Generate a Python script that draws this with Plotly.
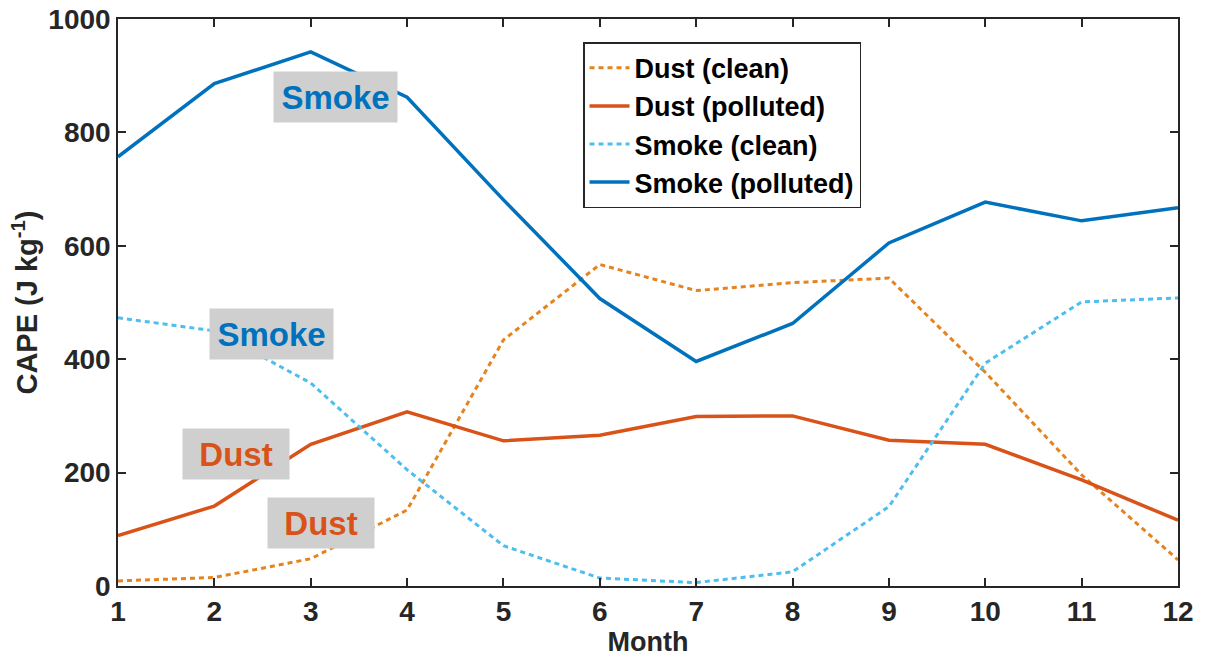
import plotly.graph_objects as go

months = list(range(1, 13))
dust_clean = [9, 15, 48, 134, 434, 567, 521, 535, 543, 377, 196, 46]
dust_polluted = [89, 141, 250, 307, 256, 266, 299, 300, 257, 250, 187, 116]
smoke_clean = [473, 450, 358, 205, 71, 14, 6, 25, 140, 393, 501, 508]
smoke_polluted = [757, 886, 942, 862, 681, 507, 396, 463, 605, 677, 644, 667]

x_ticks = months
y_ticks = [0, 200, 400, 600, 800, 1000]

C_DUST_CLEAN = "#E5841F"
C_DUST_POLL = "#D95319"
C_SMOKE_CLEAN = "#4DBEEE"
C_SMOKE_POLL = "#0072BD"

FONT = "Liberation Sans"

fig = go.Figure()
fig.add_trace(go.Scatter(x=months, y=dust_clean, mode="lines", name="<b>Dust (clean)</b>",
                         line=dict(color=C_DUST_CLEAN, width=3, dash="5px,4px")))
fig.add_trace(go.Scatter(x=months, y=dust_polluted, mode="lines", name="<b>Dust (polluted)</b>",
                         line=dict(color=C_DUST_POLL, width=3.5)))
fig.add_trace(go.Scatter(x=months, y=smoke_clean, mode="lines", name="<b>Smoke (clean)</b>",
                         line=dict(color=C_SMOKE_CLEAN, width=3, dash="5px,4px")))
fig.add_trace(go.Scatter(x=months, y=smoke_polluted, mode="lines", name="<b>Smoke (polluted)</b>",
                         line=dict(color=C_SMOKE_POLL, width=3.5)))

labels = [
    ("Smoke", 3.262, 862, C_SMOKE_POLL, 115),
    ("Smoke", 2.588, 444, C_SMOKE_POLL, 115),
    ("Dust", 2.225, 233, C_DUST_POLL, 98),
    ("Dust", 3.107, 111, C_DUST_POLL, 98),
]
for txt, xx, yy, col, w in labels:
    fig.add_annotation(x=xx, y=yy, xref="x", yref="y", text=f"<b>{txt}</b>", showarrow=False,
                       font=dict(family=FONT, size=33, color=col), bgcolor="#CFCFCF",
                       width=w, height=42, borderpad=4, xanchor="center", yanchor="middle")

axis_common = dict(showline=True, linecolor="#262626", linewidth=1.5, mirror="ticks",
                   ticks="inside", ticklen=8, tickwidth=1.5, tickcolor="#262626",
                   showgrid=False, zeroline=False, automargin=False,
                   tickfont=dict(family=FONT, size=28, color="#262626"))

fig.update_xaxes(range=[1, 12], tickvals=x_ticks, ticktext=[f"<b>{v}</b>" for v in x_ticks],
                 title=dict(text="<b>Month</b>", font=dict(family=FONT, size=27, color="#262626"), standoff=3),
                 **axis_common)
fig.update_yaxes(range=[0, 1000], tickvals=y_ticks, ticktext=[f"<b>{v}</b>" for v in y_ticks],
                 title=dict(text="<b>CAPE (J kg<sup>-1</sup>)</b>", font=dict(family=FONT, size=29, color="#262626"), standoff=2),
                 **axis_common)

fig.update_layout(
    width=1206, height=657,
    margin=dict(l=118, r=28, t=19, b=71),
    plot_bgcolor="white", paper_bgcolor="white",
    font=dict(family=FONT),
    legend=dict(x=0.4387, y=0.959, xanchor="left", yanchor="top",
                bordercolor="#262626", borderwidth=1.5, bgcolor="white",
                font=dict(family=FONT, size=27, color="#000000"),
                tracegroupgap=0, itemwidth=40),
    showlegend=True,
)

fig.write_html("out.html")
